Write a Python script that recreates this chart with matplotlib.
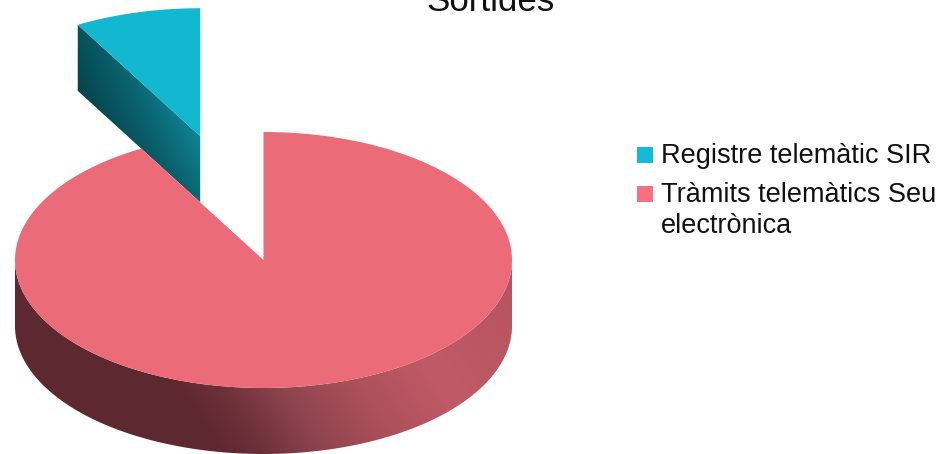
import numpy as np
import matplotlib
matplotlib.use("Agg")
import matplotlib.pyplot as plt
from matplotlib.colors import to_rgb
from matplotlib.patches import Polygon, Rectangle

plt.rcParams['font.family'] = ['Liberation Sans', 'DejaVu Sans']

title = "Sortides"
labels = ["Registre telemàtic SIR", "Tràmits telemàtics Seu\nelectrònica"]
values = [8.2, 91.8]

top_teal = "#12b8d0"
top_pink = "#ec6b78"
legend_colors = ["#12bcd6", "#f8707f"]

W, H = 952, 454
CX, CY = 263.5, 260.0
RX, RY = 248.5, 128.0
DEPTH = 66.0
EXPLODE = 1.0


def rgb(c):
    return np.array(to_rgb(c))


def ellipse_pts(theta, cx, cy):
    # theta in degrees, clockwise from the top of the pie
    t = np.radians(theta)
    return np.column_stack([cx + RX * np.sin(t), cy - RY * np.cos(t)])


def clipped_image(ax, img, verts):
    im = ax.imshow(img, extent=(0, W, H, 0), origin="upper", aspect="auto",
                   interpolation="bilinear", zorder=2)
    clip = Polygon(verts, closed=True, transform=ax.transData)
    im.set_clip_path(clip)
    return im


fig = plt.figure(figsize=(W / 100, H / 100), dpi=100)
ax = fig.add_axes([0, 0, 1, 1])
yy, xx = np.mgrid[0:H, 0:W] + 0.5

# angles of the two slices
sweep_pink = 360 * values[1] / sum(values)
sweep_teal = 360 * values[0] / sum(values)

# rim of the big slice, shading runs on a slant
rim_th = np.linspace(90, 270, 240)
rim_top = ellipse_pts(rim_th, CX, CY)
rim_bot = ellipse_pts(rim_th[::-1], CX, CY + DEPTH)
t = (xx - 0.66 * (yy - 375) - 170) / 340
stops = np.array([0, 0.12, 0.3, 0.52, 0.78, 1.2])
cols = np.array([rgb(c) for c in ["#5e2830", "#6c3039", "#8d444e", "#ab505b", "#c05a66", "#b55460"]])
img = np.stack([np.interp(t, stops, cols[:, i]) for i in range(3)], axis=-1)
clipped_image(ax, img, np.vstack([rim_top, rim_bot]))

# top of the big slice
pink_th = np.linspace(0, sweep_pink, 500)
pink = np.vstack([[CX, CY], ellipse_pts(pink_th, CX, CY)])
ax.add_patch(Polygon(pink, closed=True, fc=top_pink, ec="none", zorder=3))

# small slice pulled out along its bisector
mid = np.radians(360 - sweep_teal / 2)
ox = CX + EXPLODE * RX * np.sin(mid)
oy = CY - EXPLODE * RY * np.cos(mid)
teal_th = np.linspace(360 - sweep_teal, 360, 80)
arc = ellipse_pts(teal_th, ox, oy)

# cut face of the small slice
x0, y0 = arc[0]
s = (xx - x0) / (ox - x0)
h = (yy - (y0 + s * (oy - y0))) / DEPTH
s = np.clip(s, 0, 1)[..., None]
h = np.clip(h, 0, 1)[..., None]
upper = rgb("#07525c") * (1 - s) + rgb("#128494") * s
lower = rgb("#06444d") * (1 - s) + rgb("#0a6672") * s
clipped_image(ax, upper * (1 - h) + lower * h,
              [(x0, y0), (ox, oy), (ox, oy + DEPTH), (x0, y0 + DEPTH)])

# top of the small slice
ax.add_patch(Polygon(np.vstack([[ox, oy], arc]), closed=True, fc=top_teal, ec="none", zorder=4))

ax.text(490, 11, title, fontsize=25.1, ha="center", va="baseline", color="#111111", zorder=5)

# legend
swatch_y = [147, 185.5]
text_y = [163, 202]
for i in range(2):
    ax.add_patch(Rectangle((637, swatch_y[i]), 16, 16, fc=legend_colors[i], ec="none", zorder=5))
    parts = labels[i].split("\n")
    for j, part in enumerate(parts):
        ax.text(661, text_y[i] + j * 31, part, fontsize=19.5, ha="left", va="baseline",
                color="#111111", zorder=5)

ax.set_xlim(0, W)
ax.set_ylim(H, 0)
ax.axis("off")
fig.savefig("out.png", dpi=100, facecolor="white")
